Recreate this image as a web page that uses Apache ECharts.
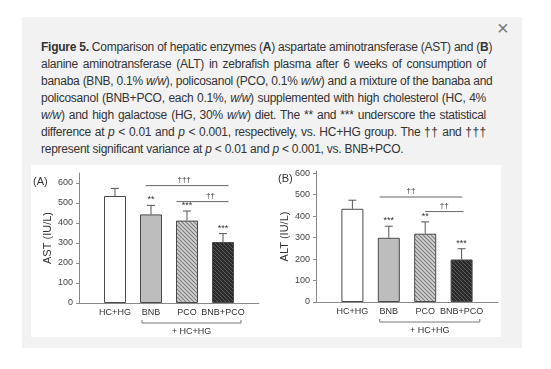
<!DOCTYPE html>
<html>
<head>
<meta charset="utf-8">
<script src="https://cdn.jsdelivr.net/npm/echarts@6/dist/echarts.min.js"></script>
<style>
  html, body { margin: 0; padding: 0; width: 551px; height: 369px; background: #fff; overflow: hidden; }
  #panel { position: absolute; left: 22px; top: 17px; width: 500px; height: 331px; background: #f2f2f2; }
  #whitebox { position: absolute; left: 31px; top: 165px; width: 470px; height: 172px; background: #fff; }
  #close { position: absolute; left: 497px; top: 17px; font: 20px "Liberation Sans", Arial, sans-serif; color: #777; }
  #caption { position: absolute; left: 41px; top: 39px; width: 445px; font-family: "Liberation Sans", Arial, sans-serif; font-size: 12px; letter-spacing: -0.25px; line-height: 17px; color: #333; }
  #caption .ln { text-align: justify; text-align-last: justify; white-space: nowrap; }
  #caption .ln.last { text-align-last: left; }
  #chart { position: absolute; left: 0; top: 0; width: 551px; height: 369px; }
</style>
</head>
<body>
<div id="panel"></div>
<div id="whitebox"></div>
<div id="close">×</div>
<div id="caption">
  <div class="ln"><b>Figure 5.</b> Comparison of hepatic enzymes (<b>A</b>) aspartate aminotransferase (AST) and (<b>B</b>)</div>
  <div class="ln">alanine aminotransferase (ALT) in zebrafish plasma after 6 weeks of consumption of</div>
  <div class="ln">banaba (BNB, 0.1% <i>w/w</i>), policosanol (PCO, 0.1% <i>w/w</i>) and a mixture of the banaba and</div>
  <div class="ln">policosanol (BNB+PCO, each 0.1%, <i>w/w</i>) supplemented with high cholesterol (HC, 4%</div>
  <div class="ln"><i>w/w</i>) and high galactose (HG, 30% <i>w/w</i>) diet. The ** and *** underscore the statistical</div>
  <div class="ln">difference at <i>p</i> &lt; 0.01 and <i>p</i> &lt; 0.001, respectively, vs. HC+HG group. The †† and †††</div>
  <div class="ln last">represent significant variance at <i>p</i> &lt; 0.01 and <i>p</i> &lt; 0.001, vs. BNB+PCO.</div>
</div>
<div id="chart"></div>
<script>
// ---------------- data ----------------
const categories = ['HC+HG', 'BNB', 'PCO', 'BNB+PCO'];
const astMean = [535, 443, 412, 305];
const astErr  = [38, 45, 48, 42];
const astSig  = ['', '**', '***', '***'];
const altMean = [434, 299, 318, 198];
const altErr  = [40, 54, 55, 50];
const altSig  = ['', '***', '**', '***'];
const yTickValues = [0, 100, 200, 300, 400, 500, 600];
// [xStart, xEnd, yValue, labelX, label]
const astBrackets = [[1.85, 4.15, 587, 2.92, '†††'], [2.71, 4.15, 507, 3.65, '††']];
const altBrackets = [[1.75, 4.02, 489, 2.61, '††'], [3.0, 4.05, 421, 3.52, '††']];
const groupLabel = '+ HC+HG';
const groupSpan = [1.75, 4.5];
const panelLabels = ['(A)', '(B)'];
const yNames = ['AST (IU/L)', 'ALT (IU/L)'];

// ---------------- styles ----------------
function hatch(bg, fg, size, lw) {
  const c = document.createElement('canvas');
  c.width = size; c.height = size;
  const g = c.getContext('2d');
  g.fillStyle = bg; g.fillRect(0, 0, size, size);
  g.strokeStyle = fg; g.lineWidth = lw;
  g.beginPath();
  g.moveTo(-1, -1); g.lineTo(size + 1, size + 1);
  g.moveTo(-1, size - 1); g.lineTo(1, size + 1);
  g.moveTo(size - 1, -1); g.lineTo(size + 1, 1);
  g.stroke();
  return c;
}
const fills = [
  '#ffffff',
  '#bdbdbd',
  { image: hatch('#d2d2d2', '#7d7d7d', 4, 1.1), repeat: 'repeat' },
  { image: hatch('#2b2b2b', '#5a5a5a', 4, 1.0), repeat: 'repeat' }
];
const textColor = '#333';
const axisColor = '#8a8a8a';

function barData(means) {
  return means.map((v, i) => ({
    value: [i + 1, v],
    itemStyle: { color: fills[i], borderColor: '#4a4a4a', borderWidth: 1 }
  }));
}
function errData(means, errs) {
  return means.map((v, i) => [i + 1, v, errs[i]]);
}
function errSeries(idx, means, errs, sig) {
  return {
    type: 'custom', xAxisIndex: idx, yAxisIndex: idx, z: 5,
    data: errData(means, errs),
    renderItem: function (params, api) {
      const x = api.value(0), m = api.value(1), e = api.value(2);
      const p0 = api.coord([x, m]);
      const p1 = api.coord([x, m + e]);
      const hw = 4;
      const children = [
        { type: 'line', shape: { x1: p0[0], y1: p0[1], x2: p1[0], y2: p1[1] }, style: { stroke: '#555', lineWidth: 1 } },
        { type: 'line', shape: { x1: p1[0] - hw, y1: p1[1], x2: p1[0] + hw, y2: p1[1] }, style: { stroke: '#555', lineWidth: 1 } }
      ];
      const s = sig[params.dataIndex];
      if (s) {
        children.push({ type: 'text', style: { text: s, x: p1[0], y: p1[1] - 1, align: 'center', verticalAlign: 'bottom', fontSize: 9, fill: textColor, fontFamily: 'Liberation Sans, Arial, sans-serif' } });
      }
      return { type: 'group', children: children };
    }
  };
}
function bracketSeries(idx, brackets) {
  return {
    type: 'custom', xAxisIndex: idx, yAxisIndex: idx, z: 5,
    data: brackets.map(b => [b[0], b[1], b[2], b[3]]),
    renderItem: function (params, api) {
      const a = api.coord([api.value(0), api.value(2)]);
      const b = api.coord([api.value(1), api.value(2)]);
      const l = api.coord([api.value(3), api.value(2)]);
      return { type: 'group', children: [
        { type: 'line', shape: { x1: a[0], y1: a[1], x2: b[0], y2: b[1] }, style: { stroke: '#666', lineWidth: 1 } },
        { type: 'text', style: { text: brackets[params.dataIndex][4], x: l[0], y: l[1] - 2, align: 'center', verticalAlign: 'bottom', fontSize: 8, fill: textColor, fontFamily: 'Liberation Sans, Arial, sans-serif' } }
      ]};
    }
  };
}
function groupSeries(idx) {
  return {
    type: 'custom', xAxisIndex: idx, yAxisIndex: idx, z: 5, clip: false,
    data: [[groupSpan[0], groupSpan[1], 0]],
    renderItem: function (params, api) {
      const a = api.coord([api.value(0), 0]);
      const b = api.coord([api.value(1), 0]);
      const y = a[1] + 20;
      return { type: 'group', children: [
        { type: 'line', shape: { x1: a[0], y1: y, x2: b[0], y2: y }, style: { stroke: '#777', lineWidth: 1 } },
        { type: 'line', shape: { x1: a[0], y1: y, x2: a[0], y2: y - 3 }, style: { stroke: '#777', lineWidth: 1 } },
        { type: 'line', shape: { x1: b[0], y1: y, x2: b[0], y2: y - 3 }, style: { stroke: '#777', lineWidth: 1 } },
        { type: 'text', style: { text: groupLabel, x: (a[0] + b[0]) / 2, y: y + 9, align: 'center', verticalAlign: 'middle', fontSize: 9, fill: textColor, fontFamily: 'Liberation Sans, Arial, sans-serif' } }
      ]};
    }
  };
}
function xAxis(idx) {
  return {
    type: 'value', gridIndex: idx, min: 0, max: 5,
    axisLine: { show: true, lineStyle: { color: axisColor, width: 1 } },
    axisTick: { show: false },
    splitLine: { show: false },
    axisLabel: {
      customValues: [1, 2, 3, 4],
      formatter: v => categories[Math.round(v) - 1] || '',
      fontSize: 9, color: textColor, margin: 5, fontFamily: 'Liberation Sans, Arial, sans-serif'
    }
  };
}
function yAxis(idx, max) {
  return {
    type: 'value', gridIndex: idx, min: 0, max: max, interval: 100,
    name: yNames[idx], nameLocation: 'middle', nameGap: 26,
    nameTextStyle: { fontSize: 11, color: textColor, fontFamily: 'Liberation Sans, Arial, sans-serif' },
    axisLine: { show: true, lineStyle: { color: axisColor, width: 1 } },
    axisTick: { show: true, length: 3, customValues: yTickValues, lineStyle: { color: axisColor } },
    splitLine: { show: false },
    axisLabel: { customValues: yTickValues, fontSize: 9, color: '#444', margin: 6, fontFamily: 'Liberation Sans, Arial, sans-serif' }
  };
}

const chart = echarts.init(document.getElementById('chart'), null, { renderer: 'canvas' });
chart.setOption({
  animation: false,
  backgroundColor: 'transparent',
  title: [
    { text: panelLabels[0], left: 33, top: 176, padding: 0, textStyle: { fontSize: 11, fontWeight: 'normal', color: textColor, fontFamily: 'Liberation Sans, Arial, sans-serif' } },
    { text: panelLabels[1], left: 278, top: 173, padding: 0, textStyle: { fontSize: 11, fontWeight: 'normal', color: textColor, fontFamily: 'Liberation Sans, Arial, sans-serif' } }
  ],
  grid: [
    { left: 79, top: 173, width: 180, height: 130 },
    { left: 316, top: 171, width: 182, height: 131 }
  ],
  xAxis: [xAxis(0), xAxis(1)],
  yAxis: [yAxis(0, 650), yAxis(1, 610)],
  series: [
    { type: 'bar', xAxisIndex: 0, yAxisIndex: 0, barWidth: 22, data: barData(astMean), z: 2 },
    errSeries(0, astMean, astErr, astSig),
    bracketSeries(0, astBrackets),
    groupSeries(0),
    { type: 'bar', xAxisIndex: 1, yAxisIndex: 1, barWidth: 22, data: barData(altMean), z: 2 },
    errSeries(1, altMean, altErr, altSig),
    bracketSeries(1, altBrackets),
    groupSeries(1)
  ]
});
</script>
</body>
</html>
